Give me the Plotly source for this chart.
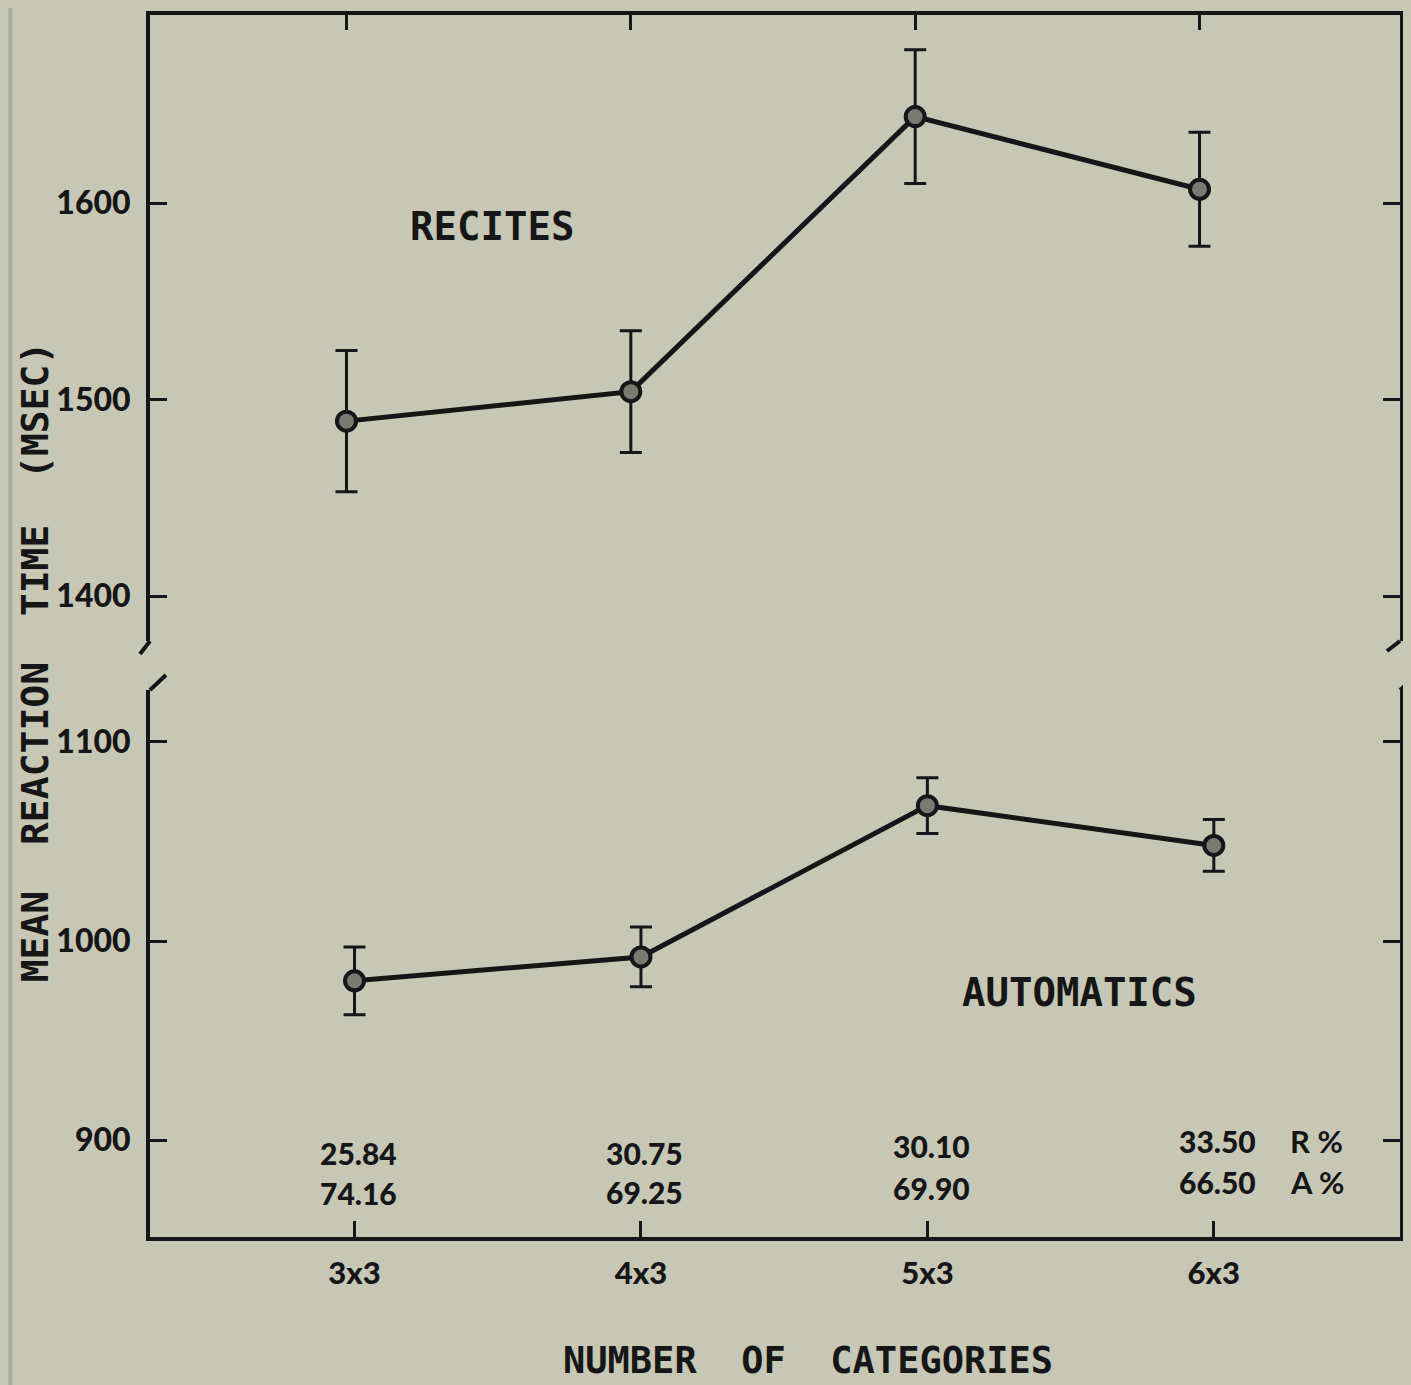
import plotly.graph_objects as go

# data
categories = ["3x3", "4x3", "5x3", "6x3"]
cat_pos = [1, 2, 3, 4]
recites_rt = [1489, 1504, 1644, 1607]
recites_err = [36, 31, 34, 29]
automatics_rt = [980, 992, 1068, 1048]
automatics_err = [17, 15, 14, 13]
r_pct = ["25.84", "30.75", "30.10", "33.50"]
a_pct = ["74.16", "69.25", "69.90", "66.50"]
r_pct_y = [893.5, 893.5, 897, 899.5]
a_pct_y = [873.5, 874, 876, 879]

BG = "#c6c8b5"
INK = "#161616"
OFF = 8  # page body margin
W, H = 1411 - OFF, 1385 - OFF
L, R, T, B = 150, 8, 15, 148   # plot area edges in page pixels
PW, PH = 1411 - L - R, 1385 - T - B


def px(x):
    return (x - L) / PW


def py(y):
    return (1385 - B - y) / PH


fig = go.Figure()

marker = dict(size=19, color="#7a7a70", line=dict(color=INK, width=4))

fig.add_trace(go.Scatter(
    x=cat_pos, y=recites_rt, mode="lines+markers",
    line=dict(color=INK, width=5), marker=marker,
    error_y=dict(type="data", array=recites_err, color=INK, thickness=3, width=11),
    xaxis="x2", yaxis="y2", showlegend=False,
))
fig.add_trace(go.Scatter(
    x=cat_pos, y=automatics_rt, mode="lines+markers",
    line=dict(color=INK, width=5), marker=marker,
    error_y=dict(type="data", array=automatics_err, color=INK, thickness=3, width=11),
    xaxis="x", yaxis="y", showlegend=False,
))

tickfont = dict(family="Lato", size=32, color=INK, weight=900)
yax = dict(showline=True, linecolor=INK, linewidth=4, mirror="ticks",
           ticks="inside", ticklen=17, tickwidth=3, tickcolor=INK,
           showgrid=False, zeroline=False, tickfont=tickfont, ticklabelstandoff=9)

fig.update_layout(
    width=W, height=H,
    margin=dict(l=L - OFF, r=R, t=T - OFF, b=B),
    paper_bgcolor=BG, plot_bgcolor=BG,
    xaxis=dict(domain=[0, 1], anchor="y", range=[0.286, 4.65],
               tickvals=cat_pos, ticktext=categories,
               showline=True, linecolor=INK, linewidth=4,
               ticks="inside", ticklen=16, tickwidth=3, tickcolor=INK,
               showgrid=False, zeroline=False,
               tickfont=dict(family="Lato", size=31, color=INK, weight=900),
               ticklabelstandoff=6),
    yaxis=dict(domain=[0, py(690)], anchor="x", range=[851.3, 1126.1],
               tickvals=[900, 1000, 1100], **yax),
    xaxis2=dict(domain=[0, 1], anchor="y2", side="top", range=[0.309, 4.705],
                tickvals=cat_pos, showticklabels=False,
                showline=True, linecolor=INK, linewidth=4,
                ticks="inside", ticklen=15, tickwidth=3, tickcolor=INK,
                showgrid=False, zeroline=False),
    yaxis2=dict(domain=[py(641), 1], anchor="x2", range=[1377.1, 1695.7],
                tickvals=[1400, 1500, 1600], **yax),
)

# axis break marks
breaks = [((150, 641), (140, 654)), ((150, 690), (166, 675)),
          ((1403, 641), (1390, 651)), ((1403, 690), (1416, 679))]
for (x0, y0), (x1, y1) in breaks:
    fig.add_shape(type="line", xref="paper", yref="paper",
                  x0=px(x0), y0=py(y0), x1=px(x1), y1=py(y1),
                  line=dict(color=INK, width=4))

# scanned page edge on the left
fig.add_shape(type="rect", xref="paper", yref="paper",
              x0=px(OFF), x1=px(12), y0=py(1385), y1=py(0),
              fillcolor="#a9ab9a", line=dict(width=0), layer="below")

mono = dict(family="DejaVu Sans Mono", size=39, color=INK, weight="bold")
fig.add_annotation(x=1.51, y=1588, xref="x2", yref="y2", text="RECITES",
                   showarrow=False, font=mono)
fig.add_annotation(x=3.53, y=974, xref="x", yref="y", text="AUTOMATICS",
                   showarrow=False, font=mono)

pctfont = dict(family="Lato", size=30, color=INK, weight=900)
for xi, r, a, ry, ay in zip(cat_pos, r_pct, a_pct, r_pct_y, a_pct_y):
    fig.add_annotation(x=xi, y=ry, xref="x", yref="y", text=r,
                       showarrow=False, font=pctfont, xshift=4)
    fig.add_annotation(x=xi, y=ay, xref="x", yref="y", text=a,
                       showarrow=False, font=pctfont, xshift=4)
pctlab = dict(family="Lato", size=31, color=INK, weight="bold")
fig.add_annotation(x=cat_pos[-1], y=r_pct_y[-1], xref="x", yref="y", text="R %",
                   showarrow=False, font=pctlab, xshift=103)
fig.add_annotation(x=cat_pos[-1], y=a_pct_y[-1], xref="x", yref="y", text="A %",
                   showarrow=False, font=pctlab, xshift=103)

fig.add_annotation(x=px(35), y=py(662), xref="paper", yref="paper",
                   xanchor="center", yanchor="middle",
                   text="MEAN\u00a0 REACTION\u00a0 TIME\u00a0 (MSEC)",
                   textangle=-90, showarrow=False,
                   font=dict(family="DejaVu Sans Mono", size=38, color=INK, weight="bold"))
fig.add_annotation(x=px(810), y=py(1360), xref="paper", yref="paper",
                   xanchor="center", yanchor="middle",
                   text="NUMBER\u00a0 OF\u00a0 CATEGORIES",
                   showarrow=False,
                   font=dict(family="DejaVu Sans Mono", size=37, color=INK, weight="bold"))

fig.write_html("out.html", post_script=f"document.body.style.background='{BG}';"
               f"document.documentElement.style.background='{BG}';")
